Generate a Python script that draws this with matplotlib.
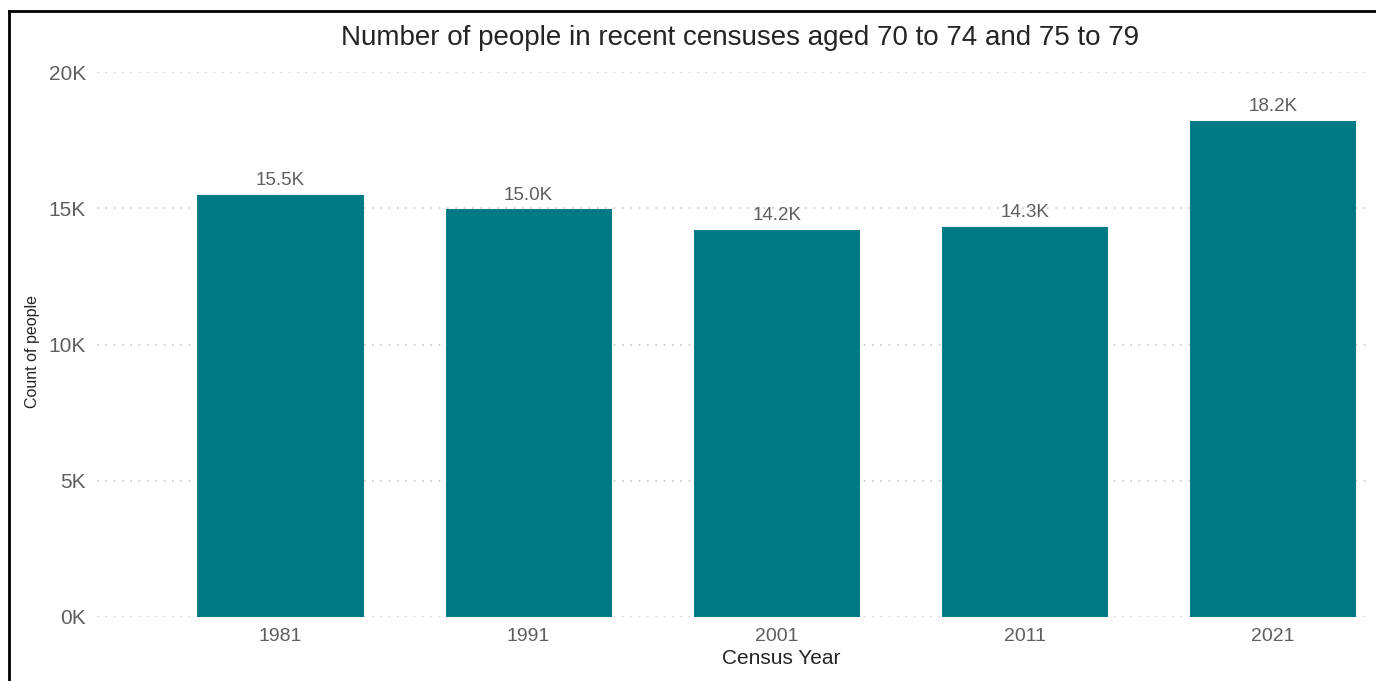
import matplotlib
matplotlib.use("Agg")
import matplotlib.pyplot as plt
from matplotlib.lines import Line2D
from matplotlib.ticker import FuncFormatter

plt.rcParams['font.family'] = ['Liberation Sans', 'DejaVu Sans']

years = ["1981", "1991", "2001", "2011", "2021"]
counts = [15500, 14970, 14200, 14310, 18200]
labels = ["15.5K", "15.0K", "14.2K", "14.3K", "18.2K"]
yticks = [0, 5000, 10000, 15000, 20000]

W, H = 1376, 681
fig = plt.figure(figsize=(W / 100, H / 100), dpi=100)
ax = fig.add_axes([97 / W, 1 - 617 / H, (1372 - 97) / W, (617 - 72) / H])

bar_color = "#007A85"
text_gray = "#605E5C"
dark = "#252423"

x = list(range(len(years)))
bars = ax.bar(x, counts, width=0.67, color=bar_color, zorder=3)
for xi, v, lab in zip(x, counts, labels):
    ax.annotate(lab, (xi, v), xytext=(0, 4), textcoords="offset points",
                ha="center", va="bottom", fontsize=13.5, color=text_gray)

ax.set_ylim(0, 20000)
ax.set_xlim(-0.74, 4.4)
ax.set_yticks(yticks)
ax.yaxis.set_major_formatter(FuncFormatter(lambda v, p: f"{int(v/1000)}K"))
ax.set_xticks(x)
ax.set_xticklabels(years)
ax.tick_params(axis="both", length=0, labelcolor=text_gray)
ax.tick_params(axis="y", pad=8, labelsize=15)
ax.tick_params(axis="x", pad=8, labelsize=14)
ax.grid(axis="y", linestyle=(0, (1, 4)), color="#C8C6C4", linewidth=1.2, zorder=0)
for s in ax.spines.values():
    s.set_visible(False)

fig.text(781 / W, 1 - 659 / H, "Census Year", ha="center", va="center",
         fontsize=15, color=dark)
fig.text(32 / W, 1 - 352 / H, "Count of people", rotation=90, ha="center", va="center",
         fontsize=11.5, color=dark)
fig.text(740 / W, 1 - 38 / H, "Number of people in recent censuses aged 70 to 74 and 75 to 79",
         ha="center", va="center", fontsize=20, color=dark)

fig.add_artist(Line2D([8.5 / W, 8.5 / W], [0, 1 - 11 / H], color="black", linewidth=2, transform=fig.transFigure))
fig.add_artist(Line2D([8.5 / W, 1], [1 - 11 / H, 1 - 11 / H], color="black", linewidth=2, transform=fig.transFigure))

fig.savefig("out.png", dpi=100, facecolor="white")
